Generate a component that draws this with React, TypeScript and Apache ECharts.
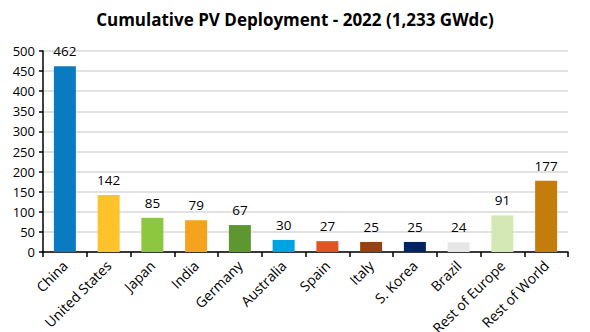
import React, { useEffect, useRef } from "react";
import * as echarts from "echarts";

const categories = ["China", "United States", "Japan", "India", "Germany", "Australia", "Spain", "Italy", "S. Korea", "Brazil", "Rest of Europe", "Rest of World"];
const values = [462, 142, 85, 79, 67, 30, 27, 25, 25, 24, 91, 177];
const colors = ["#0A7BC1", "#FEC22A", "#8DC63F", "#F5A21F", "#5E9732", "#00A3E1", "#DE5621", "#974010", "#022463", "#E6E6E6", "#D3E8B5", "#C47C0C"];

export default function App() {
  const ref = useRef<HTMLDivElement>(null);
  useEffect(() => {
    const chart = echarts.init(ref.current!, undefined, { renderer: "svg" });
    const font = "'Open Sans', sans-serif";
    chart.setOption({
      animation: false,
      title: {
        text: "Cumulative PV Deployment - 2022 (1,233 GWdc)",
        left: "center",
        top: 6,
        textStyle: { fontFamily: font, fontSize: 17, fontWeight: "bold", color: "#000" },
      },
      grid: { left: 43, right: 22, top: 51, bottom: 80, containLabel: false, outerBoundsMode: "none" },
      xAxis: {
        type: "category",
        data: categories,
        axisLine: { lineStyle: { color: "#000", width: 1.5 } },
        axisTick: { show: true, alignWithLabel: false, length: 5, lineStyle: { color: "#000", width: 1.5 } },
        axisLabel: { rotate: 45, color: "#000", fontFamily: font, fontSize: 14, interval: 0, margin: 11 },
      },
      yAxis: {
        type: "value",
        min: 0,
        max: 500,
        interval: 50,
        axisLine: { show: true, lineStyle: { color: "#000", width: 1.5 } },
        axisTick: { show: true, length: 4, lineStyle: { color: "#000", width: 1.5 } },
        axisLabel: { color: "#000", fontFamily: font, fontSize: 13, margin: 8 },
        splitLine: { lineStyle: { color: "#D9D9D9", width: 1.5 } },
      },
      series: [
        {
          type: "bar",
          data: values.map((v, i) => ({ value: v, itemStyle: { color: colors[i] } })),
          barWidth: 22,
          label: { show: true, position: "top", distance: 8, color: "#000", fontFamily: font, fontSize: 13.5 },
        },
      ],
    });
    return () => chart.dispose();
  }, []);
  return <div ref={ref} style={{ width: 590, height: 332, position: "absolute", left: 0, top: 0, background: "#fff" }} />;
}
